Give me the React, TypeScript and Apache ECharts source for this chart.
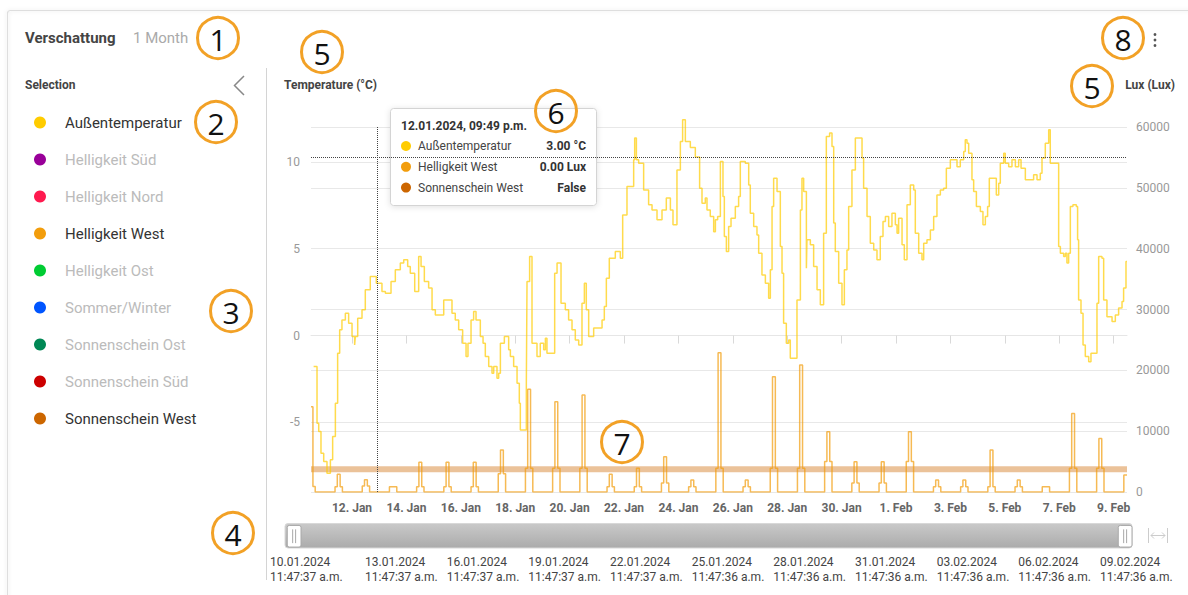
import React, { useEffect, useRef } from 'react';
import * as echarts from 'echarts';

const HOUR = 3600000;
const BASE = Date.UTC(2024, 0, 10, 0, 0, 0);
const START = Date.UTC(2024, 0, 10, 11, 47, 37);
const END = Date.UTC(2024, 1, 9, 11, 47, 36);
const CROSS_TIME = Date.UTC(2024, 0, 12, 21, 49, 0);
const CROSS_TEMP = 10.24;

const monthNames = ['Jan', 'Feb', 'Mar', 'Apr', 'May', 'Jun', 'Jul', 'Aug', 'Sep', 'Oct', 'Nov', 'Dec'];
const xTickDates = [
  '2024-01-12', '2024-01-14', '2024-01-16', '2024-01-18', '2024-01-20', '2024-01-22', '2024-01-24',
  '2024-01-26', '2024-01-28', '2024-01-30', '2024-02-01', '2024-02-03', '2024-02-05', '2024-02-07', '2024-02-09',
];

const legendNames = [
  'Außentemperatur', 'Helligkeit Süd', 'Helligkeit Nord', 'Helligkeit West', 'Helligkeit Ost',
  'Sommer/Winter', 'Sonnenschein Ost', 'Sonnenschein Süd', 'Sonnenschein West',
];
const legendColors = ['#FFCC00', '#990099', '#FF1A4F', '#F29D0C', '#00CC33', '#0055FF', '#008855', '#CC0000', '#CC6600'];
const activeNames = ['Außentemperatur', 'Helligkeit West', 'Sonnenschein West'];

// Außentemperatur (°C): hours since 10.01.2024 00:00 and the value that starts there
const tempHours = [
  11.79, 14.1, 17.1, 18.6, 20.6, 23.0, 25.9, 28.9, 30.9, 33.3, 35.3, 37.1, 39.1, 42.1, 45.0, 48.0, 50.3, 50.9,
  53.0, 56.8, 59.7, 64.1, 69.4, 74.4, 77.4, 82.4, 86.2, 90.6, 93.6, 97.1, 99.4, 103.3, 106.8, 108.9, 111.8,
  115.6, 118.6, 121.5, 128.9, 136.2, 139.1, 142.1, 145.6, 148.6, 150.3, 153.0, 155.3, 157.4, 161.2, 163.6,
  165.6, 168.6, 171.5, 173.0, 175.9, 177.4, 178.9, 182.4, 186.2, 187.7, 190.6, 193.6, 195.6, 196.5, 201.8,
  202.4, 204.7, 206.8, 211.2, 214.1, 217.1, 218.6, 220.0, 226.8, 228.9, 232.4, 236.2, 239.1, 242.1, 245.0,
  248.0, 250.9, 253.0, 254.7, 256.8, 261.2, 268.6, 270.6, 272.4, 275.0, 280.3, 284.7, 286.8, 290.6, 296.5,
  297.4, 298.9, 300.9, 305.3, 309.7, 312.7, 317.1, 321.5, 325.3, 328.9, 331.2, 334.7, 337.7, 339.7, 342.1,
  346.5, 350.9, 354.7, 356.8, 359.7, 361.2, 364.1, 367.1, 368.6, 370.6, 373.0, 375.3, 376.5, 378.3, 380.3,
  382.4, 386.2, 389.1, 390.6, 395.0, 398.0, 399.4, 402.4, 405.3, 406.8, 409.7, 412.7, 415.6, 417.1, 418.6,
  420.0, 423.0, 425.9, 427.4, 428.8, 431.2, 433.3, 434.7, 440.6, 443.6, 445.0, 446.5, 448.9, 449.4, 452.4,
  455.3, 458.3, 461.2, 464.1, 466.5, 469.4, 471.5, 473.0, 474.4, 477.4, 480.3, 482.4, 484.7, 486.2, 489.1,
  492.1, 498.0, 499.4, 502.4, 505.3, 508.3, 511.2, 514.1, 516.5, 518.6, 521.5, 524.4, 527.4, 528.9, 530.3,
  533.3, 535.3, 537.7, 540.6, 543.6, 545.0, 548.0, 550.9, 552.4, 555.3, 558.3, 561.2, 564.1, 567.1, 570.0,
  572.4, 575.9, 581.8, 584.7, 587.7, 589.1, 590.6, 592.1, 595.0, 596.5, 598.9, 602.4, 604.7, 606.8, 608.8,
  610.3, 616.5, 618.6, 620.0, 623.0, 624.4, 627.4, 630.3, 633.3, 636.2, 638.3, 642.1, 649.4, 652.4, 655.3,
  656.8, 659.7, 662.7, 664.1, 671.5, 673.0, 675.9, 677.4, 678.8, 680.3, 681.8, 684.1, 687.1, 688.2, 689.1,
  691.2, 693.0, 695.0, 698.0, 700.0, 705.3, 706.8, 709.7, 711.2, 714.1, 718.6, 721.5, 724.4, 727.4, 728.8,
  730.9, 731.79,
];
const tempValues = [
  -0.54, -1.78, -5.04, -5.52, -6.77, -7.25, -7.92, -7.15, -5.81, -3.89, -1.01, 0.33, 0.9, 1.29, 0.71, -0.06, -0.54, -0.06,
  1.0, 1.48, 2.63, 3.4, 3.01, 2.53, 2.44, 3.11, 3.78, 4.17, 4.36, 3.97, 3.59, 2.53, 4.55, 3.97, 3.11,
  2.73, 1.48, 1.19, 2.05, 1.29, 0.9, 0.33, -0.44, -1.21, -0.44, 0.9, 1.38, 0.9, -0.06, -0.44,
  -1.21, -1.78, -2.17, -1.78, -2.45, -2.17, -0.44, -0.06, -0.82, -1.21, -1.78, -2.74, -3.89, -5.43, -2.74,
  3.11, 4.55, -0.44, -1.21, -0.44, -0.82, -0.15, -1.01, 3.59, 4.17, 1.86, 1.48, 0.9, 0.33, -0.25,
  -0.54, 1.86, 3.01, 1.48, -0.06, 0.43, 0.9, 1.67, 3.3, 4.45, 4.83, 4.45, 6.94, 8.57, 10.11,
  11.36, 10.11, 9.92, 8.38, 7.52, 7.23, 6.66, 7.23, 7.91, 7.23, 6.37, 9.53, 11.16, 12.41, 11.16,
  10.82, 10.27, 8.48, 7.62, 7.91, 7.23, 6.85, 5.98, 6.66, 6.85, 10.01, 8.0, 5.7, 4.83, 6.27,
  6.75, 7.42, 8.0, 10.01, 9.92, 8.67, 7.04, 6.27, 5.79, 4.74, 3.49, 3.01, 2.15, 3.78, 7.42,
  9.05, 8.29, 5.12, 3.59, 0.71, -0.44, -0.25, -1.3, 2.05, 7.23, 9.05, 8.29, 3.88, 5.51, 5.22,
  3.97, 2.63, 1.77, 5.89, 11.45, 11.65, 10.88, 6.47, 4.83, 3.01, 1.77, 3.78, 4.93, 7.42, 9.53,
  11.36, 10.21, 8.48, 6.85, 5.31, 4.93, 4.36, 5.7, 6.56, 6.85, 6.27, 7.04, 6.37, 5.89, 6.75,
  5.22, 4.36, 7.52, 8.67, 8.38, 5.89, 4.74, 4.36, 5.31, 5.51, 6.08, 6.85, 8.09, 8.38, 8.48,
  9.63, 10.11, 9.72, 10.11, 10.59, 11.26, 11.07, 10.49, 8.96, 8.29, 7.42, 7.14, 6.37, 6.85, 7.42,
  9.05, 8.09, 8.77, 9.92, 10.49, 9.92, 9.72, 10.11, 9.72, 10.11, 9.63, 8.96, 9.25, 8.96, 9.34,
  10.21, 11.07, 11.84, 9.92, 5.12, 4.74, 4.55, 4.74, 4.17, 4.74, 7.42, 7.52, 7.42, 5.51, 2.05,
  1.29, -0.54, -1.21, -1.5, -1.01, 1.86, 4.55, 4.45, 2.05, 1.09, 0.81, 1.19, 1.58, 1.96, 2.73,
  4.26, 4.26,
];

// Helligkeit West (Lux): one value per day from 10.01. to 09.02., midday peak and its shoulder
const luxDayPeak = [
  14000, 2900, 2000, 870, 4880, 4880, 4880, 6900, 16900, 14850, 15950, 2900, 3900, 5800, 1970, 22900,
  1970, 18950, 20880, 9900, 4980, 4980, 9900, 1970, 1970, 6900, 1970, 870, 12900, 8800, 2800,
];
const luxDayShoulder = [
  900, 870, 1000, 870, 870, 870, 870, 3000, 3900, 3900, 3900, 870, 870, 1500, 870, 3900,
  870, 3900, 3900, 5000, 1500, 1500, 5000, 870, 870, 870, 870, 870, 3900, 3900, 2800,
];
const luxProfileHours = [9, 11, 13.5, 15.5];

// Sonnenschein West (boolean, 0 = False): one value per day
const sunshineWest = [
  0, 0, 0, 0, 0, 0, 0, 0, 0, 0, 0, 0, 0, 0, 0, 0, 0, 0, 0, 0, 0, 0, 0, 0, 0, 0, 0, 0, 0, 0, 0,
];

const zoomLabelDates = [
  '10.01.2024', '13.01.2024', '16.01.2024', '19.01.2024', '22.01.2024', '25.01.2024',
  '28.01.2024', '31.01.2024', '03.02.2024', '06.02.2024', '09.02.2024',
];
const zoomLabelTimes = [
  '11:47:37 a.m.', '11:47:37 a.m.', '11:47:37 a.m.', '11:47:37 a.m.', '11:47:37 a.m.', '11:47:36 a.m.',
  '11:47:36 a.m.', '11:47:36 a.m.', '11:47:36 a.m.', '11:47:36 a.m.', '11:47:36 a.m.',
];
// label slots of the navigator axis (first label is pushed to the axis start)
const zoomLabelSlots = [-0.163, 1, 2, 3, 4, 5, 6, 7, 8, 9, 10];

const tooltipTitle = '12.01.2024, 09:49 p.m.';
const tooltipLabels = ['Außentemperatur', 'Helligkeit West', 'Sonnenschein West'];
const tooltipValues = ['3.00 °C', '0.00 Lux', 'False'];
const tooltipColors = ['#FFCC00', '#F29D0C', '#CC6600'];

const FONT = 'Roboto, "Noto Sans", sans-serif';

function buildOption() {
  const tempData = tempHours.map((h, i) => [BASE + h * HOUR, tempValues[i]]);

  const raw: number[][] = [];
  luxDayPeak.forEach((peak, d) => {
    const sh = luxDayShoulder[d];
    const vals = [sh, peak, sh, 0];
    luxProfileHours.forEach((h, j) => raw.push([BASE + (d * 24 + h) * HOUR, vals[j]]));
  });
  let startVal = 0;
  raw.forEach((p) => { if (p[0] <= START) startVal = p[1]; });
  let endVal = 0;
  raw.forEach((p) => { if (p[0] <= END) endVal = p[1]; });
  const luxData = [[START, startVal], ...raw.filter((p) => p[0] > START && p[0] < END), [END, endVal]];

  const sunData = sunshineWest.map((v, d) => [Math.min(Math.max(BASE + d * 24 * HOUR, START), END), v]);
  sunData.push([END, sunshineWest[sunshineWest.length - 1]]);

  const xTickValues = xTickDates.map((s) => {
    const [y, m, d] = s.split('-').map(Number);
    return Date.UTC(y, m - 1, d);
  });

  const seriesList: any[] = legendNames.map((name, i) => {
    const color = legendColors[i];
    if (name === 'Außentemperatur') {
      return {
        name, type: 'line', step: 'end', yAxisIndex: 0, data: tempData, showSymbol: false, clip: false,
        color, itemStyle: { color }, lineStyle: { color, width: 1.5, opacity: 0.7 }, z: 4,
      };
    }
    if (name === 'Helligkeit West') {
      return {
        name, type: 'line', step: 'end', yAxisIndex: 1, data: luxData, showSymbol: false,
        color, itemStyle: { color }, lineStyle: { color, width: 1.5, opacity: 0.7 }, z: 3,
      };
    }
    if (name === 'Sonnenschein West') {
      return {
        name, type: 'line', step: 'end', yAxisIndex: 2, data: sunData, showSymbol: false,
        color, itemStyle: { color }, lineStyle: { color, width: 6, opacity: 0.4 }, z: 2,
      };
    }
    return { name, type: 'line', data: [], color, itemStyle: { color }, lineStyle: { color } };
  });

  const annotations = [
    { n: '1', x: 218, y: 38 }, { n: '2', x: 216, y: 122 }, { n: '3', x: 231, y: 311 },
    { n: '4', x: 233, y: 533 }, { n: '5', x: 322, y: 52 }, { n: '5', x: 1092, y: 86 },
    { n: '6', x: 556, y: 111 }, { n: '7', x: 622, y: 442 }, { n: '8', x: 1123, y: 38 },
  ];

  const graphics: any[] = [
    { type: 'rect', silent: true, z: 0, shape: { x: 7.5, y: 10.5, width: 1200, height: 600, r: 3 },
      style: { fill: 'none', stroke: '#DEDEDE', lineWidth: 1.2, shadowBlur: 4, shadowColor: 'rgba(0,0,0,0.12)' } },
    { type: 'line', silent: true, shape: { x1: 266.5, y1: 68, x2: 266.5, y2: 580 }, style: { stroke: '#D4D4D4', lineWidth: 1 } },
    { type: 'text', x: 25, y: 38, style: { text: 'Verschattung', fill: '#444', font: `bold 15px ${FONT}`, textVerticalAlign: 'middle' } },
    { type: 'text', x: 133, y: 38, style: { text: '1 Month', fill: '#AAAAAA', font: `15px ${FONT}`, textVerticalAlign: 'middle' } },
    { type: 'text', x: 25, y: 85, style: { text: 'Selection', fill: '#444', font: `bold 12px ${FONT}`, textVerticalAlign: 'middle' } },
    { type: 'polyline', silent: true, shape: { points: [[244, 76], [234.5, 85.5], [244, 95]] }, style: { stroke: '#888', lineWidth: 1.5, fill: 'none' } },
    { type: 'text', x: 284, y: 85, style: { text: 'Temperature (°C)', fill: '#444', font: `bold 12px ${FONT}`, textVerticalAlign: 'middle' } },
    { type: 'text', x: 1175, y: 85, style: { text: 'Lux (Lux)', fill: '#444', font: `bold 12px ${FONT}`, textAlign: 'right', textVerticalAlign: 'middle' } },
    { type: 'circle', silent: true, shape: { cx: 1155, cy: 34.5, r: 1.4 }, style: { fill: '#555' } },
    { type: 'circle', silent: true, shape: { cx: 1155, cy: 40, r: 1.4 }, style: { fill: '#555' } },
    { type: 'circle', silent: true, shape: { cx: 1155, cy: 45.5, r: 1.4 }, style: { fill: '#555' } },
    // slider track
    { type: 'rect', silent: true, z: 1, shape: { x: 285, y: 523.5, width: 847, height: 24.5, r: 3 },
      style: { fill: new echarts.graphic.LinearGradient(0, 0, 0, 1, [{ offset: 0, color: '#C9C9C9' }, { offset: 1, color: '#ABABAB' }]), stroke: '#D8D8D8', lineWidth: 1 } },
    // reset-zoom icon
    { type: 'line', silent: true, shape: { x1: 1148.5, y1: 528, x2: 1148.5, y2: 543 }, style: { stroke: '#CCCCCC', lineWidth: 1 } },
    { type: 'line', silent: true, shape: { x1: 1167.5, y1: 528, x2: 1167.5, y2: 543 }, style: { stroke: '#CCCCCC', lineWidth: 1 } },
    { type: 'line', silent: true, shape: { x1: 1151, y1: 535.5, x2: 1165, y2: 535.5 }, style: { stroke: '#CCCCCC', lineWidth: 1 } },
    { type: 'polyline', silent: true, shape: { points: [[1154, 532.5], [1151, 535.5], [1154, 538.5]] }, style: { stroke: '#CCCCCC', lineWidth: 1, fill: 'none' } },
    { type: 'polyline', silent: true, shape: { points: [[1162, 532.5], [1165, 535.5], [1162, 538.5]] }, style: { stroke: '#CCCCCC', lineWidth: 1, fill: 'none' } },
    // tooltip box
    { type: 'rect', z: 50, shape: { x: 390.5, y: 108.5, width: 206, height: 97, r: 3 },
      style: { fill: '#FFFFFF', stroke: '#D4D4D4', lineWidth: 1, shadowBlur: 6, shadowColor: 'rgba(0,0,0,0.12)', shadowOffsetY: 1 } },
    { type: 'text', z: 51, x: 401, y: 126, style: { text: tooltipTitle, fill: '#333', font: `bold 12px ${FONT}`, textVerticalAlign: 'middle' } },
  ];
  tooltipLabels.forEach((lab, i) => {
    const y = 146 + i * 20.8;
    graphics.push({ type: 'circle', z: 51, shape: { cx: 406, cy: y, r: 5 }, style: { fill: tooltipColors[i] } });
    graphics.push({ type: 'text', z: 51, x: 418, y, style: { text: lab, fill: '#444', font: `12px ${FONT}`, textVerticalAlign: 'middle' } });
    graphics.push({ type: 'text', z: 51, x: 586, y, style: { text: tooltipValues[i], fill: '#333', font: `bold 12px ${FONT}`, textAlign: 'right', textVerticalAlign: 'middle' } });
  });
  annotations.forEach((a) => {
    graphics.push({ type: 'circle', z: 60, silent: true, shape: { cx: a.x, cy: a.y, r: 20.5 }, style: { fill: 'none', stroke: '#F2A126', lineWidth: 3 } });
    graphics.push({ type: 'text', z: 61, silent: true, x: a.x, y: a.y + 1, style: { text: a.n, fill: '#111', font: `30px "Open Sans", sans-serif`, textAlign: 'center', textVerticalAlign: 'middle' } });
  });

  return {
    animation: false,
    backgroundColor: '#FFFFFF',
    textStyle: { fontFamily: FONT },
    legend: {
      orient: 'vertical', left: 34, top: 114.5, padding: 0, icon: 'circle',
      itemWidth: 12, itemHeight: 12, itemGap: 21, selectedMode: false,
      textStyle: { fontSize: 15, lineHeight: 16, padding: [0, 0, 0, 14], fontFamily: FONT },
      data: legendNames.map((n) => ({ name: n, textStyle: { color: activeNames.includes(n) ? '#333333' : '#BBBBBB' } })),
    },
    grid: [
      { left: 311, right: 61, top: 127, bottom: 103 },
      { left: 267, right: 88, top: 545, height: 5 },
    ],
    dataZoom: [{
      type: 'slider', xAxisIndex: [0], start: 0, end: 100, left: 292, right: 63, top: 524, height: 23.5,
      showDetail: false, showDataShadow: false, brushSelect: false, moveHandleSize: 0,
      backgroundColor: 'rgba(0,0,0,0)', borderColor: 'rgba(0,0,0,0)', fillerColor: 'rgba(0,0,0,0)',
      handleIcon: 'path://M2,0 H12 A2,2 0 0 1 14,2 V20 A2,2 0 0 1 12,22 H2 A2,2 0 0 1 0,20 V2 A2,2 0 0 1 2,0 Z M5.5,4 V18 M8.5,4 V18',
      handleSize: '92%', handleStyle: { color: '#FFFFFF', borderColor: '#A8A8A8', borderWidth: 1 },
      dataBackground: { lineStyle: { opacity: 0 }, areaStyle: { opacity: 0 } },
    }],
    xAxis: [
      {
        type: 'value', gridIndex: 0, min: START, max: END, splitLine: { show: false },
        axisLine: { show: true, lineStyle: { color: '#E6E6E6' } },
        axisTick: { show: true, customValues: xTickValues, length: 8, lineStyle: { color: '#D9D9D9' } },
        axisLabel: {
          customValues: xTickValues, color: '#666', fontWeight: 'bold', fontSize: 12, margin: 10,
          formatter: (v: number) => { const d = new Date(v); return `${d.getUTCDate()}. ${monthNames[d.getUTCMonth()]}`; },
        },
        axisPointer: {
          show: true, type: 'line', value: CROSS_TIME, status: 'show', snap: false, triggerTooltip: false,
          label: { show: false }, lineStyle: { color: '#444', width: 1, type: 'dotted' },
        },
      },
      {
        type: 'value', gridIndex: 1, min: -0.2, max: 10,
        axisLine: { show: false }, axisTick: { show: false }, splitLine: { show: false },
        axisLabel: {
          customValues: zoomLabelSlots, align: 'left', color: '#444', fontSize: 12, lineHeight: 15, margin: 4,
          formatter: (v: number) => {
            const i = v < 0.5 ? 0 : Math.round(v);
            return `${zoomLabelDates[i]}\n${zoomLabelTimes[i]}`;
          },
        },
      },
    ],
    yAxis: [
      {
        type: 'value', gridIndex: 0, position: 'left', min: -9, max: 12,
        axisLine: { show: false }, axisTick: { show: false },
        axisLabel: { color: '#999', fontSize: 12, margin: 11, showMinLabel: false, showMaxLabel: false },
        splitLine: { lineStyle: { color: '#E8E8E8' } },
        axisPointer: {
          show: true, type: 'line', value: CROSS_TEMP, status: 'show', snap: false, triggerTooltip: false,
          label: { show: false }, lineStyle: { color: '#444', width: 1, type: 'dotted' },
        },
      },
      {
        type: 'value', gridIndex: 0, position: 'right', min: 0, max: 60000, interval: 10000,
        axisLine: { show: false }, axisTick: { show: false },
        axisLabel: { color: '#999', fontSize: 12, margin: 9, formatter: (v: number) => String(v) },
        splitLine: { lineStyle: { color: '#E8E8E8' } },
      },
      { type: 'value', gridIndex: 0, show: false, min: -1, max: 15, splitLine: { show: false } },
      { type: 'value', gridIndex: 1, show: false },
    ],
    series: seriesList,
    graphic: { elements: graphics },
  };
}

export default function App() {
  const ref = useRef<HTMLDivElement>(null);
  useEffect(() => {
    if (!ref.current) return;
    const chart = echarts.init(ref.current, null, { renderer: 'svg' });
    chart.setOption(buildOption() as any);
    return () => chart.dispose();
  }, []);
  return (
    <div
      ref={ref}
      style={{ position: 'fixed', left: 0, top: 0, width: 1188, height: 595, background: '#FFFFFF' }}
    />
  );
}
